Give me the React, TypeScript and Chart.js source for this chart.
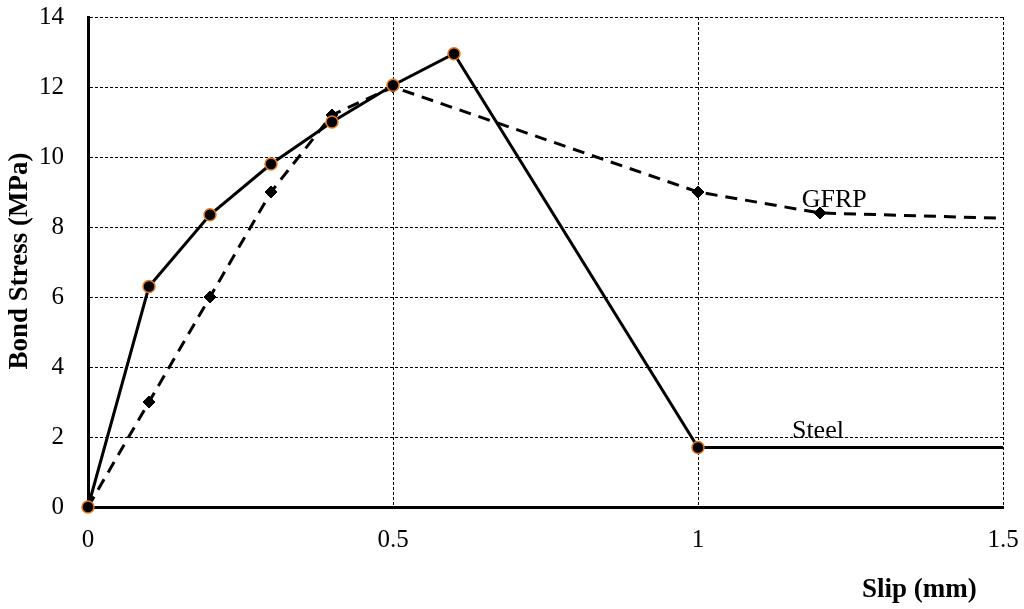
import React, { useEffect, useRef } from "react";
import { Chart, registerables } from "chart.js";

Chart.register(...registerables);

const steelSlip = [0, 0.1, 0.2, 0.3, 0.4, 0.5, 0.6, 1.0, 1.5];
const steelStress = [0, 6.3, 8.35, 9.8, 11.0, 12.05, 12.95, 1.7, 1.7];
const steelMarkers = [1, 1, 1, 1, 1, 1, 1, 1, 0];

const gfrpSlip = [0, 0.1, 0.2, 0.3, 0.4, 0.5, 1.0, 1.2, 1.5];
const gfrpStress = [0, 3.0, 6.0, 9.0, 11.2, 12.0, 9.0, 8.4, 8.25];
const gfrpMarkers = [1, 1, 1, 1, 1, 1, 1, 1, 0];

const yTicks = [0, 2, 4, 6, 8, 10, 12, 14];
const xTicks = [0, 0.5, 1, 1.5];

const xTitle = "Slip (mm)";
const yTitle = "Bond Stress (MPa)";
const seriesLabels = [
  { text: "GFRP", x: 1.17, y: 8.77 },
  { text: "Steel", x: 1.154, y: 2.17 },
];

const SERIF = "'Liberation Serif', 'Times New Roman', serif";

export default function App() {
  const ref = useRef<HTMLCanvasElement | null>(null);

  useEffect(() => {
    if (!ref.current) return;
    const textPlugin = {
      id: "texts",
      afterDraw(chart: any) {
        const ctx = chart.ctx;
        const xs = chart.scales.x;
        const ys = chart.scales.y;
        ctx.save();
        ctx.fillStyle = "#000";
        ctx.font = `26px ${SERIF}`;
        ctx.textAlign = "left";
        ctx.textBaseline = "middle";
        for (const l of seriesLabels) {
          ctx.fillText(l.text, xs.getPixelForValue(l.x), ys.getPixelForValue(l.y));
        }
        ctx.font = `bold 27px ${SERIF}`;
        ctx.textAlign = "left";
        ctx.textBaseline = "alphabetic";
        ctx.fillText(xTitle, 862, 597);
        ctx.translate(27, 261);
        ctx.rotate(-Math.PI / 2);
        ctx.textAlign = "center";
        ctx.fillText(yTitle, 0, 0);
        ctx.restore();
      },
    };

    const chart = new Chart(ref.current, {
      type: "scatter",
      data: {
        datasets: [
          {
            label: "Steel",
            data: steelSlip.map((x, i) => ({ x, y: steelStress[i] })),
            showLine: true,
            borderColor: "#000",
            borderWidth: 3,
            pointRadius: steelMarkers.map((m) => (m ? 6 : 0)),
            pointStyle: "circle",
            pointBackgroundColor: "#000",
            pointBorderColor: "#e8761e",
            pointBorderWidth: 1.5,
            clip: false,
          } as any,
          {
            label: "GFRP",
            data: gfrpSlip.map((x, i) => ({ x, y: gfrpStress[i] })),
            showLine: true,
            borderColor: "#000",
            borderWidth: 3,
            borderDash: [12, 8],
            pointRadius: gfrpMarkers.map((m) => (m ? 6 : 0)),
            pointStyle: "rectRot",
            pointBackgroundColor: "#000",
            pointBorderColor: "#000",
            pointBorderWidth: 1,
            clip: false,
          } as any,
        ],
      },
      options: {
        animation: false,
        responsive: true,
        maintainAspectRatio: false,
        layout: { padding: { left: 0, right: 21, top: 17, bottom: 0 } },
        plugins: {
          legend: { display: false },
          tooltip: { enabled: false },
        },
        scales: {
          x: {
            type: "linear",
            min: 0,
            max: 1.5,
            afterFit(scale: any) {
              scale.height = 102;
              scale.paddingLeft = 0;
              scale.paddingRight = 0;
            },
            afterBuildTicks(scale: any) {
              scale.ticks = xTicks.map((v) => ({ value: v }));
            },
            ticks: {
              color: "#000",
              font: { family: SERIF, size: 25 },
              padding: 18,
              maxRotation: 0,
              callback: (v: any) => String(v),
            },
            grid: {
              color: "#000",
              lineWidth: 1,
              drawTicks: false,
            },
            border: { display: true, color: "#000", width: 3, dash: [3, 2] } as any,
          },
          y: {
            type: "linear",
            min: 0,
            max: 14,
            afterFit(scale: any) {
              scale.width = 88;
              scale.paddingTop = 0;
              scale.paddingBottom = 0;
            },
            afterBuildTicks(scale: any) {
              scale.ticks = yTicks.map((v) => ({ value: v }));
            },
            ticks: {
              color: "#000",
              font: { family: SERIF, size: 25 },
              padding: 24,
              callback: (v: any) => String(v),
            },
            grid: {
              color: "#000",
              lineWidth: 1,
              drawTicks: false,
            },
            border: { display: true, color: "#000", width: 3, dash: [3, 2] } as any,
          },
        },
      } as any,
      plugins: [textPlugin],
    });
    return () => chart.destroy();
  }, []);

  return (
    <div style={{ position: "fixed", left: 0, top: 0, width: 1024, height: 609, background: "#fff" }}>
      <canvas ref={ref} />
    </div>
  );
}
